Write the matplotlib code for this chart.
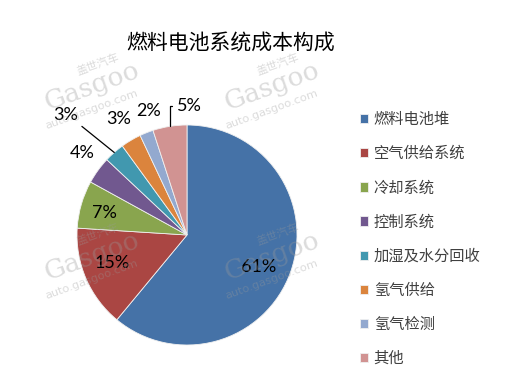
import numpy as np
import matplotlib.pyplot as plt

plt.rcParams['font.family'] = ['Noto Sans CJK SC', 'DejaVu Sans']

title = "燃料电池系统成本构成"
parts = ["燃料电池堆", "空气供给系统", "冷却系统", "控制系统",
         "加湿及水分回收", "氢气供给", "氢气检测", "其他"]
shares = [61, 15, 7, 4, 3, 3, 2, 5]
colors = ["#4572A7", "#AA4643", "#89A54E", "#71588F",
          "#4198AF", "#DB843D", "#93A9CF", "#D19392"]
# radial distance (in pie radii) and angle nudge (deg) of each percentage label
label_dist = [0.71, 0.73, 0.78, 1.21, 1.55, 1.23, 1.18, 1.21]
label_turn = [-4, -3, 1, -2, 4, 0, -4.5, 0]

W, H = 506, 392
fig = plt.figure(figsize=(W / 100, H / 100), dpi=100)

# pie axes: center (187, 235) px, radius 110 px
R = 110
L = 1.5
s = R * L
cx, cy = 187, 235
ax = fig.add_axes([(cx - s) / W, (H - cy - s) / H, 2 * s / W, 2 * s / H])

wedges, _ = ax.pie(shares, colors=colors, startangle=90, counterclock=False,
                   radius=1, wedgeprops=dict(edgecolor='#f0f0f0', linewidth=0.6))
ax.set_xlim(-L, L)
ax.set_ylim(-L, L)
ax.set_aspect('equal')
ax.axis('off')

for i, (w, pct) in enumerate(zip(wedges, shares)):
    mid = np.deg2rad((w.theta1 + w.theta2) / 2)
    lab = mid + np.deg2rad(label_turn[i])
    d = label_dist[i]
    tx, ty = d * np.cos(lab), d * np.sin(lab)
    txt = f"{pct}%"
    kw = dict(fontsize=13, family=['Lato', 'DejaVu Sans'], color='black')
    if i == 4:
        # teal slice: leader line to upper left
        ax.annotate(txt, xy=(np.cos(mid), np.sin(mid)), xytext=(tx, ty),
                    ha='center', va='center',
                    arrowprops=dict(arrowstyle='-', color='black', lw=0.9,
                                    relpos=(1, 0), shrinkA=1, shrinkB=0), **kw)
    elif i == 7:
        # last slice: elbow leader to the label
        ax.annotate(txt, xy=(np.cos(mid), np.sin(mid)), xytext=(tx + 0.1, ty - 0.02),
                    ha='left', va='center',
                    arrowprops=dict(arrowstyle='-', color='black', lw=0.9,
                                    connectionstyle='angle,angleA=0,angleB=90,rad=0',
                                    relpos=(0, 0.5), shrinkA=2, shrinkB=0), **kw)
    else:
        ax.text(tx, ty, txt, ha='center', va='center', **kw)

fig.text(231 / W, 1 - 43 / H, title, ha='center', va='center',
         fontsize=15, color='black')

fig.legend(wedges, parts, loc='center left', bbox_to_anchor=(360 / W, 1 - 239 / H),
           frameon=False, fontsize=11, labelcolor='#404040',
           handlelength=0.55, handleheight=0.55, handletextpad=0.35,
           labelspacing=1.12, borderpad=0, borderaxespad=0)

# faint site watermarks
for ox, oy in [(0, 0), (180, 0), (0, 170), (180, 170)]:
    for dx, dy, txt, fs, fam in [(98, 64, "盖世汽车", 8, ['Noto Sans CJK SC']),
                                 (92, 86, "Gasgoo", 19, ['DejaVu Serif']),
                                 (92, 110, "auto.gasgoo.com", 8.2, ['DejaVu Sans'])]:
        fig.text((dx + ox) / W, 1 - (dy + oy) / H, txt, ha='center', va='center',
                 rotation=20, fontsize=fs, family=fam, color='#9a9a9a', alpha=0.35)

fig.savefig('out.png', dpi=100, facecolor='white')
